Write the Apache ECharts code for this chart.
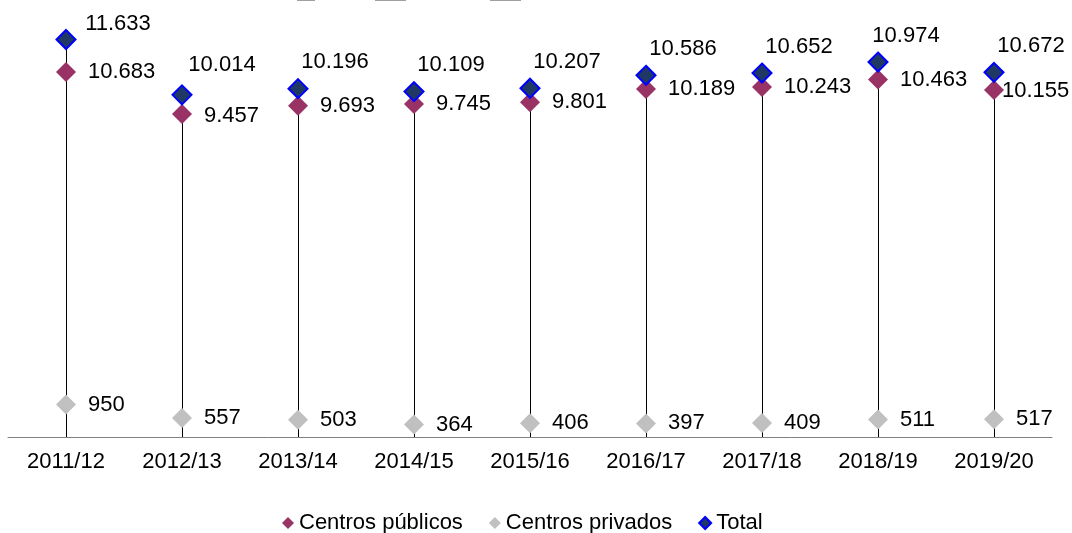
<!DOCTYPE html>
<html>
<head>
<meta charset="utf-8">
<script src="https://cdn.jsdelivr.net/npm/echarts@6/dist/echarts.min.js"></script>
<style>
  html, body { margin: 0; padding: 0; background: #ffffff; }
  #chart { width: 1072px; height: 533px; }
</style>
</head>
<body>
<div id="chart"></div>
<script>
// School years on the category axis
const years = ['2011/12', '2012/13', '2013/14', '2014/15', '2015/16', '2016/17', '2017/18', '2018/19', '2019/20'];

// Number of schools per year
const publicos = [10683, 9457, 9693, 9745, 9801, 10189, 10243, 10463, 10155];
const privados = [950, 557, 503, 364, 406, 397, 409, 511, 517];
const total = [11633, 10014, 10196, 10109, 10207, 10586, 10652, 10974, 10672];

const FONT = '"Liberation Sans", Arial, sans-serif';

// Spanish thousands separator: 11633 -> "11.633"
function fmt(v) {
  return String(v).replace(/\B(?=(\d{3})+(?!\d))/g, '.');
}

// Hand-tuned label nudges for a few crowded points
const totalLabelOffset = { 0: [52, 11], 1: [40, -3], 7: [28, 0] };
const publicLabelOffset = { 8: [-14, 1], 1: [0, 2] };

function withLabelOffsets(values, offsets) {
  return values.map((v, i) => offsets[i] ? { value: v, label: { offset: offsets[i] } } : v);
}

const chart = echarts.init(document.getElementById('chart'), null, { renderer: 'canvas' });

const labelBase = {
  show: true,
  color: '#000000',
  fontFamily: FONT,
  fontSize: 22,
  formatter: p => fmt(p.value)
};

const stubStyle = { fill: '#a0a0a0', stroke: null, lineWidth: 0 };

chart.setOption({
  animation: false,
  backgroundColor: '#ffffff',
  grid: { left: 8, right: 20, top: 27, bottom: 96, containLabel: false },
  xAxis: {
    type: 'category',
    data: years,
    boundaryGap: true,
    axisLine: { show: true, lineStyle: { color: '#808080', width: 1 } },
    axisTick: { show: false },
    axisLabel: { color: '#000000', fontFamily: FONT, fontSize: 22, margin: 14 }
  },
  yAxis: {
    type: 'value',
    min: 0,
    max: 12000,
    show: false,
    splitLine: { show: false }
  },
  legend: {
    data: ['Centros públicos', 'Centros privados', 'Total'],
    top: 512,
    left: 282,
    padding: [0, 0, 0, 0],
    itemWidth: 12,
    itemHeight: 12,
    itemGap: 26,
    textStyle: { color: '#000000', fontFamily: FONT, fontSize: 22 }
  },
  graphic: [
    { type: 'rect', silent: true, shape: { x: 297, y: 0, width: 18, height: 1 }, style: stubStyle },
    { type: 'rect', silent: true, shape: { x: 375, y: 0, width: 31, height: 1 }, style: stubStyle },
    { type: 'rect', silent: true, shape: { x: 490, y: 0, width: 31, height: 1 }, style: stubStyle }
  ],
  series: [
    {
      // Drop lines from the Total marker down to the axis
      name: 'drop',
      type: 'custom',
      silent: true,
      z: 1,
      data: total.map((v, i) => [i, v]),
      renderItem: function (params, api) {
        const top = api.coord([api.value(0), api.value(1)]);
        const base = api.coord([api.value(0), 0]);
        const x = Math.round(top[0]) + 0.5;
        return {
          type: 'line',
          shape: { x1: x, y1: top[1], x2: x, y2: base[1] },
          style: { stroke: '#000000', lineWidth: 1 }
        };
      }
    },
    {
      name: 'Centros públicos',
      type: 'scatter',
      symbol: 'diamond',
      symbolSize: 20,
      z: 3,
      itemStyle: { color: '#993366', opacity: 1 },
      label: Object.assign({}, labelBase, { position: 'right', distance: 12 }),
      data: withLabelOffsets(publicos, publicLabelOffset)
    },
    {
      name: 'Centros privados',
      type: 'scatter',
      symbol: 'diamond',
      symbolSize: 20,
      z: 3,
      itemStyle: { color: '#c0c0c0', opacity: 1 },
      label: Object.assign({}, labelBase, { position: 'right', distance: 12 }),
      data: privados
    },
    {
      name: 'Total',
      type: 'scatter',
      symbol: 'diamond',
      symbolSize: 19,
      z: 4,
      itemStyle: { color: '#1f3864', borderColor: '#0000ff', borderWidth: 2, opacity: 1 },
      label: Object.assign({}, labelBase, { position: 'top', distance: 5, offset: [37, 0] }),
      data: withLabelOffsets(total, totalLabelOffset)
    }
  ]
});
</script>
</body>
</html>
